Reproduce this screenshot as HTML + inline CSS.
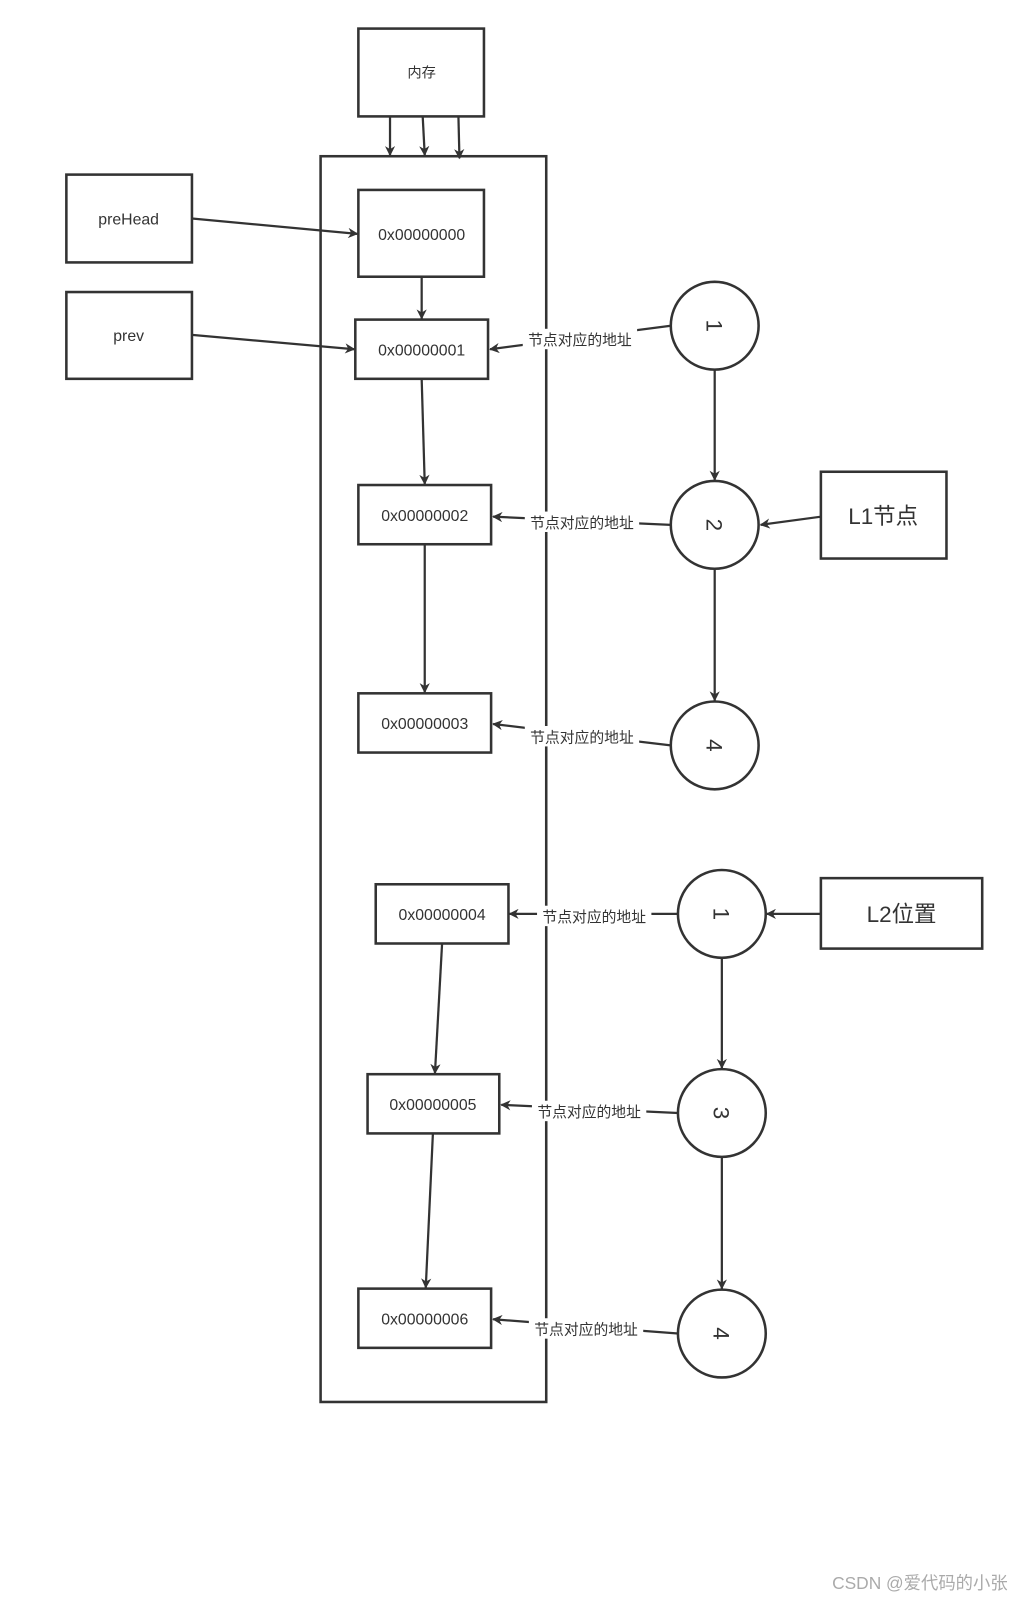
<!DOCTYPE html>
<html><head><meta charset="utf-8"><style>
html,body{margin:0;padding:0;background:#fff;}
svg{display:block}
text{font-family:"Liberation Sans","Noto Sans CJK SC",sans-serif;fill:#333}
</style></head><body>
<svg width="1021" height="1597" viewBox="0 0 1000 1564" preserveAspectRatio="none" xmlns="http://www.w3.org/2000/svg">
<defs>
<marker id="a" markerWidth="10" markerHeight="10" refX="9" refY="5" orient="auto" markerUnits="userSpaceOnUse" viewBox="0 0 10 10">
<path d="M0,0 L10,5 L0,10 L3,5 Z" fill="#333"/>
</marker>
</defs>
<g fill="none" stroke="#333" stroke-width="2.5">
<rect x="351" y="28" width="123" height="86"/>
<rect x="314" y="153" width="221" height="1220"/>
<rect x="65" y="171" width="123" height="86"/>
<rect x="65" y="286" width="123" height="85"/>
<rect x="351" y="186" width="123" height="85"/>
<rect x="348" y="313" width="130" height="58"/>
<rect x="351" y="475" width="130" height="58"/>
<rect x="351" y="679" width="130" height="58"/>
<rect x="368" y="866" width="130" height="58"/>
<rect x="360" y="1052" width="129" height="58"/>
<rect x="351" y="1262" width="130" height="58"/>
<rect x="804" y="462" width="123" height="85"/>
<rect x="804" y="860" width="158" height="69"/>
<circle cx="700" cy="319" r="43"/>
<circle cx="700" cy="514" r="43"/>
<circle cx="700" cy="730" r="43"/>
<circle cx="707" cy="895" r="43"/>
<circle cx="707" cy="1090" r="43"/>
<circle cx="707" cy="1306" r="43"/>
</g>
<g fill="none" stroke="#333" stroke-width="2.2" marker-end="url(#a)">
<line x1="382" y1="114" x2="382" y2="152"/>
<line x1="414" y1="114" x2="416" y2="152"/>
<line x1="449" y1="114" x2="450" y2="155"/>
<line x1="188" y1="214" x2="350" y2="229"/>
<line x1="188" y1="328" x2="347" y2="342"/>
<line x1="413" y1="271" x2="413" y2="312"/>
<line x1="413" y1="371" x2="416" y2="474"/>
<line x1="416" y1="533" x2="416" y2="678"/>
<line x1="433" y1="924" x2="426" y2="1051"/>
<line x1="424" y1="1110" x2="417" y2="1261"/>
<line x1="700" y1="362" x2="700" y2="470"/>
<line x1="700" y1="557" x2="700" y2="686"/>
<line x1="707" y1="938" x2="707" y2="1046"/>
<line x1="707" y1="1133" x2="707" y2="1262"/>
<line x1="804" y1="506" x2="745" y2="514"/>
<line x1="804" y1="895" x2="751" y2="895"/>
<line x1="657" y1="319" x2="480" y2="342"/>
<line x1="657" y1="514" x2="483" y2="506"/>
<line x1="657" y1="730" x2="483" y2="709"/>
<line x1="664" y1="895" x2="499" y2="895"/>
<line x1="664" y1="1090" x2="491" y2="1082"/>
<line x1="664" y1="1306" x2="483" y2="1292"/>
</g>
<g fill="#fff">
<rect x="512" y="322" width="112" height="20"/>
<rect x="514" y="501" width="112" height="20"/>
<rect x="514" y="711" width="112" height="20"/>
<rect x="526" y="887" width="112" height="20"/>
<rect x="521" y="1078" width="112" height="20"/>
<rect x="518" y="1291" width="112" height="20"/>
</g>
<g font-size="14.5" text-anchor="middle">
<text x="568" y="338">节点对应的地址</text>
<text x="570" y="517">节点对应的地址</text>
<text x="570" y="727">节点对应的地址</text>
<text x="582" y="903">节点对应的地址</text>
<text x="577" y="1094">节点对应的地址</text>
<text x="574" y="1307">节点对应的地址</text>
</g>
<g font-size="15.5" text-anchor="middle">
<text x="413" y="76" font-size="14">内存</text>
<text x="126" y="220">preHead</text>
<text x="126" y="334">prev</text>
<text x="413" y="235">0x00000000</text>
<text x="413" y="348">0x00000001</text>
<text x="416" y="510">0x00000002</text>
<text x="416" y="714">0x00000003</text>
<text x="433" y="901">0x00000004</text>
<text x="424" y="1087">0x00000005</text>
<text x="416" y="1297">0x00000006</text>
</g>
<g font-size="22" text-anchor="middle">
<text x="865" y="513">L1节点</text>
<text x="883" y="903">L2位置</text>
</g>
<g font-size="22" text-anchor="middle">
<text transform="translate(700,319) rotate(90)" y="8">1</text>
<text transform="translate(700,514) rotate(90)" y="8">2</text>
<text transform="translate(700,730) rotate(90)" y="8">4</text>
<text transform="translate(707,895) rotate(90)" y="8">1</text>
<text transform="translate(707,1090) rotate(90)" y="8">3</text>
<text transform="translate(707,1306) rotate(90)" y="8">4</text>
</g>
<text x="987" y="1556" font-size="17" text-anchor="end" style="fill:#aaa">CSDN @爱代码的小张</text>
</svg>
</body></html>
